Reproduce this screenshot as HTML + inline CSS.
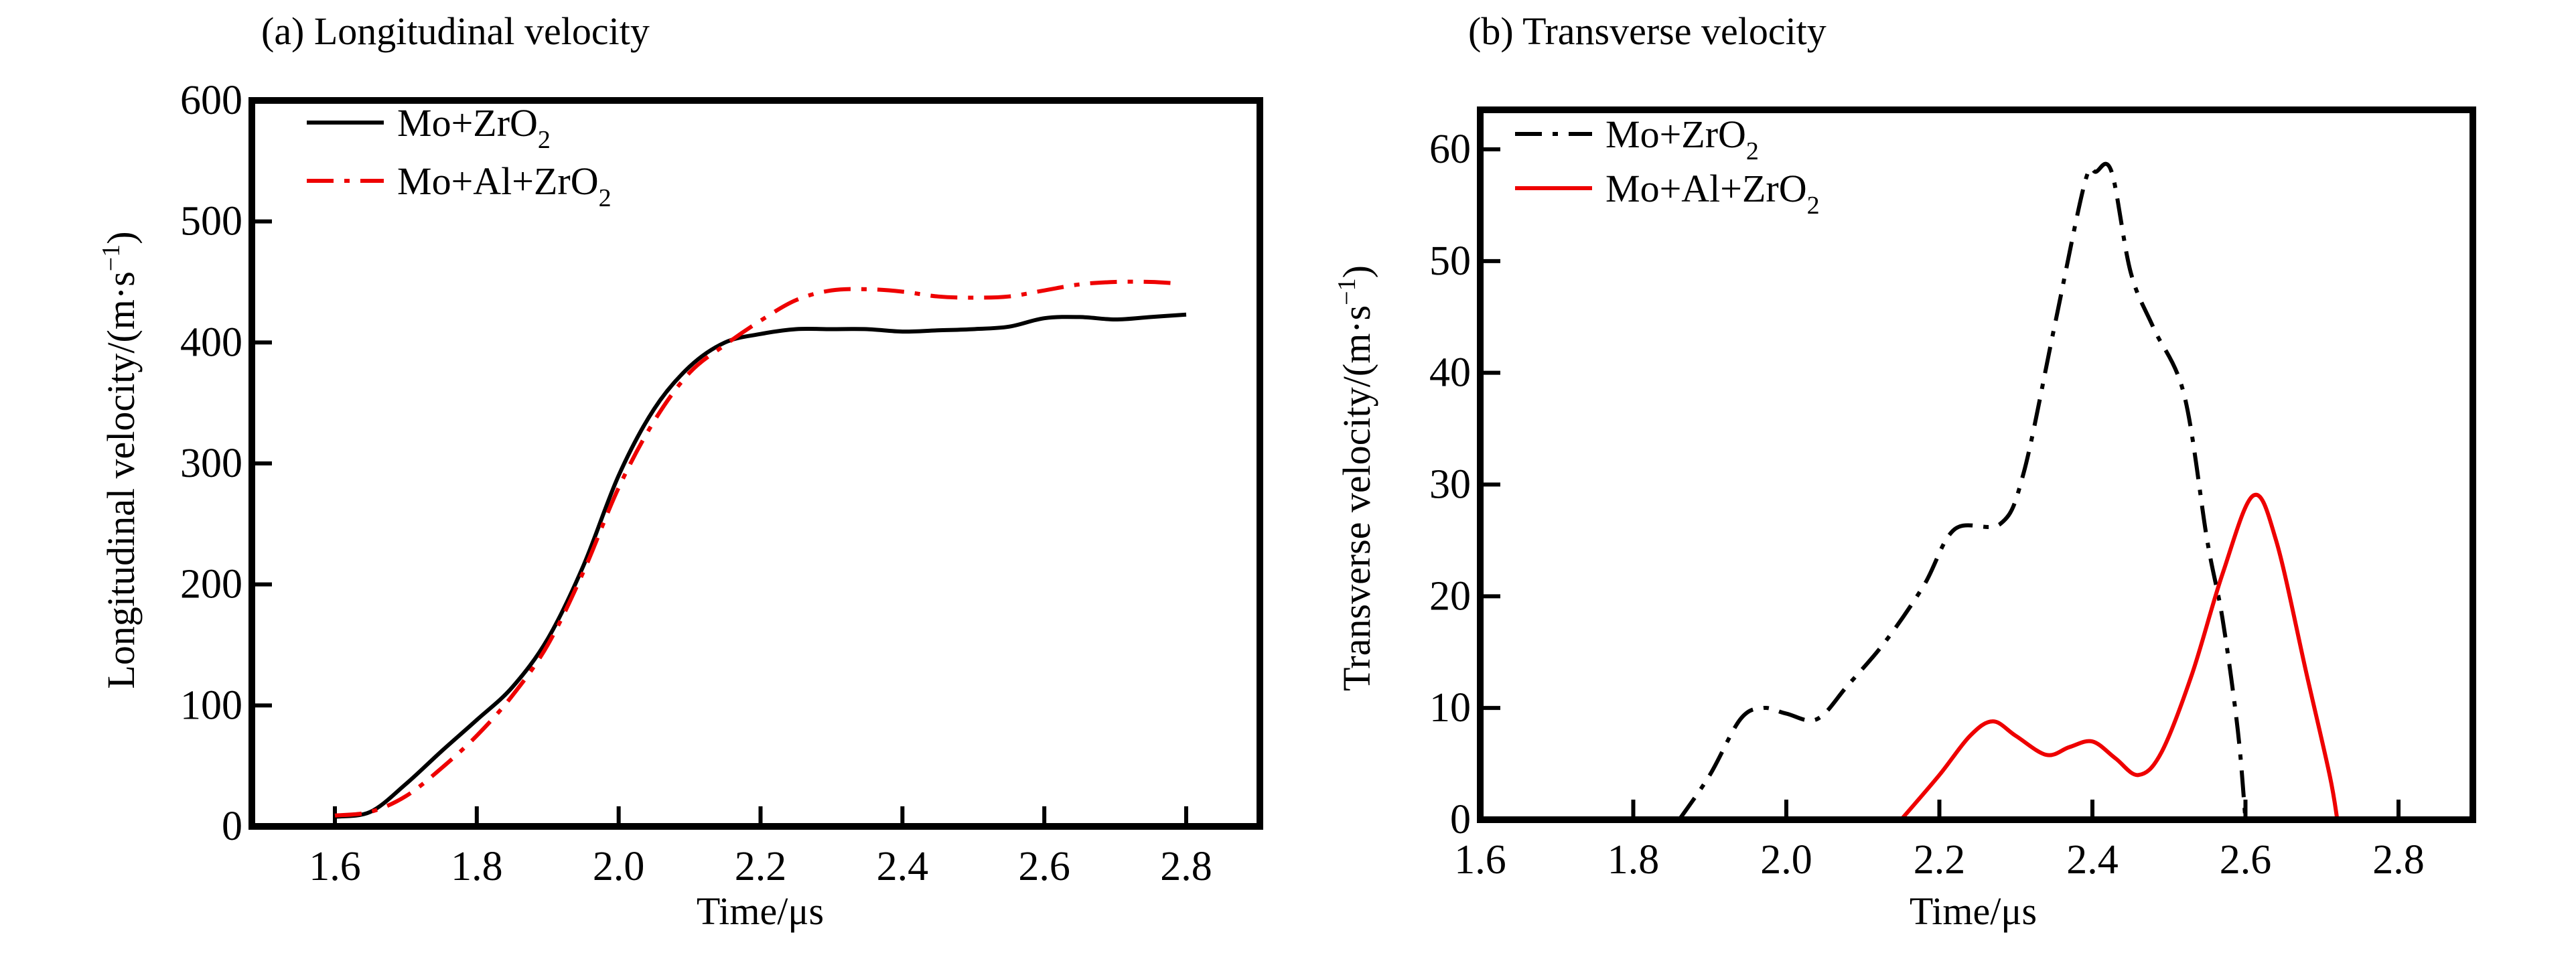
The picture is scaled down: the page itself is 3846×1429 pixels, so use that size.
<!DOCTYPE html>
<html><head><meta charset="utf-8"><style>
html,body{margin:0;padding:0;background:#fff;}
svg{display:block;font-family:"Liberation Serif",serif;}
</style></head><body>
<svg id="chart" width="3846" height="1429" viewBox="0 0 3846 1429" xmlns="http://www.w3.org/2000/svg">
<rect width="3846" height="1429" fill="#fff"/>
</svg>
<script>
// Panel (a) data
const timeA = [1.6,1.65,1.7,1.75,1.8,1.85,1.9,1.95,2.0,2.05,2.1,2.15,2.2,2.25,2.3,2.35,2.4,2.45,2.5,2.55,2.6,2.65,2.7,2.75,2.8];
const longMo = [8,12,35,62,88,115,155,215,290,345,380,400,407,411,411,411,409,410,411,413,420,421,419,421,423];
const timeA2 = [1.6,1.65,1.7,1.75,1.8,1.85,1.9,1.95,2.0,2.05,2.1,2.15,2.2,2.25,2.3,2.35,2.4,2.45,2.5,2.55,2.6,2.65,2.7,2.75,2.78];
const longMoAl = [9,12,25,48,75,108,150,210,280,335,375,398,418,435,443,444,442,438,437,438,443,448,450,450,449];
const xTicksA = [1.6,1.8,2.0,2.2,2.4,2.6,2.8];
const yTicksA = [0,100,200,300,400,500,600];
// Panel (b) data
const timeB1 = [1.86,1.9,1.94,1.97,2.0,2.04,2.08,2.13,2.18,2.22,2.28,2.31,2.35,2.39,2.405,2.425,2.45,2.48,2.52,2.55,2.57,2.59,2.6];
const transMo = [0,4,9,10,9.5,9,12,16,21,26,26.5,31,44,57,58,58,49,44,38,25,18,8,0];
const timeB2 = [2.15,2.2,2.24,2.27,2.3,2.34,2.37,2.4,2.43,2.46,2.49,2.53,2.57,2.61,2.64,2.68,2.71,2.72];
const transMoAl = [0,4,7.5,8.8,7.5,5.8,6.5,7,5.5,4,6,13,22,29,25,13,4,0];
const xTicksB = [1.6,1.8,2.0,2.2,2.4,2.6,2.8];
const yTicksB = [0,10,20,30,40,50,60];

const NS="http://www.w3.org/2000/svg";
const svg=document.getElementById('chart');
function mk(tag,attrs,parent){const e=document.createElementNS(NS,tag);for(const k in attrs)e.setAttribute(k,attrs[k]);(parent||svg).appendChild(e);return e;}
function txt(s,attrs,parent){const e=mk('text',attrs,parent);e.textContent=s;return e;}
function smooth(pts){let d='M'+pts[0][0]+','+pts[0][1];for(let i=0;i<pts.length-1;i++){const p0=pts[Math.max(0,i-1)],p1=pts[i],p2=pts[i+1],p3=pts[Math.min(pts.length-1,i+2)];const c1x=p1[0]+(p2[0]-p0[0])/6,c1y=p1[1]+(p2[1]-p0[1])/6,c2x=p2[0]-(p3[0]-p1[0])/6,c2y=p2[1]-(p3[1]-p1[1])/6;d+=` C${c1x},${c1y} ${c2x},${c2y} ${p2[0]},${p2[1]}`;}return d;}

function panel(cfg){
  const g=mk('g',{});
  
  
  const X=v=>cfg.x0+(v-cfg.xmin)/(cfg.xmax-cfg.xmin)*(cfg.x1-cfg.x0);
  const Y=v=>cfg.y0+(v-cfg.ymin)/(cfg.ymax-cfg.ymin)*(cfg.y1-cfg.y0);
  const t=txt(cfg.title,{x:cfg.titleX,y:66,'font-size':58},g);
  
  
  cfg.xTicks.forEach(v=>{
    const l=mk('line',{x1:X(v),x2:X(v),y1:cfg.by1,y2:cfg.by1-30,stroke:'#000','stroke-width':6},g);
    
    
    const tl=txt(v.toFixed(1),{x:X(v),y:cfg.by1+80,'font-size':62,'text-anchor':'middle'},g);
    
    
  });
  cfg.yTicks.forEach(v=>{
    const l=mk('line',{x1:cfg.bx0,x2:cfg.bx0+30,y1:Y(v),y2:Y(v),stroke:'#000','stroke-width':6},g);
    
    
    const tl=txt(String(v),{x:cfg.bx0-14,y:Y(v)+20,'font-size':62,'text-anchor':'end'},g);
    
    
  });
  cfg.series.forEach(s=>{
    const pts=s.x.map((v,i)=>[X(v),Y(s.y[i])]);
    const p=mk('path',{d:smooth(pts),fill:'none',stroke:s.color,'stroke-width':6,'stroke-dasharray':s.dash||'none'},g);
    
    
  });
  const box=mk('rect',{x:cfg.bx0,y:cfg.by0,width:cfg.bx1-cfg.bx0,height:cfg.by1-cfg.by0,fill:'none',stroke:'#000','stroke-width':10},g);
  
  
  cfg.series.forEach((s,i)=>{
    const ly=cfg.legY[i];
    const lg=mk('g',{},g);
    
    
    mk('line',{x1:cfg.legX,x2:cfg.legX+115,y1:ly,y2:ly,stroke:s.color,'stroke-width':6,'stroke-dasharray':s.dash||'none'},lg);
    const lt=txt('',{x:cfg.legX+135,y:ly+20,'font-size':58},lg);
    lt.innerHTML=s.label+'<tspan dy="18" font-size="38">2</tspan>';
  });
  const xt=txt('Time/μs',{x:cfg.xtX,y:1380,'font-size':58,'text-anchor':'middle'},g);
  
  
  const yt=txt('',{x:0,y:0,'font-size':58,'text-anchor':'middle',transform:`translate(${cfg.ytX},${cfg.ytY}) rotate(-90)`},g);
  yt.innerHTML=cfg.ytitle+'/(m·s<tspan dy="-22" font-size="38">−1</tspan><tspan dy="22">)</tspan>';
  
  
}

panel({name:'panel-a-longitudinal',title:'(a) Longitudinal velocity',titleX:390,
  bx0:376,bx1:1881,by0:150,by1:1234,
  x0:500,x1:1771,xmin:1.6,xmax:2.8,y0:1234,y1:150,ymin:0,ymax:600,
  xTicks:xTicksA,yTicks:yTicksA,
  series:[{x:timeA,y:longMo,color:'#000',label:'Mo+ZrO',name:'line-mo-zro2'},
          {x:timeA2,y:longMoAl,color:'#e00',dash:'40 16 8 16',label:'Mo+Al+ZrO',name:'line-mo-al-zro2'}],
  legX:458,legY:[183,270],xtX:1135,ytX:200,ytY:687,ytitle:'Longitudinal velocity'});

panel({name:'panel-b-transverse',title:'(b) Transverse velocity',titleX:2192,
  bx0:2210,bx1:3692,by0:164,by1:1224,
  x0:2210,x1:3581,xmin:1.6,xmax:2.8,y0:1224,y1:223,ymin:0,ymax:60,
  xTicks:xTicksB,yTicks:yTicksB,
  series:[{x:timeB1,y:transMo,color:'#000',dash:'40 16 8 16',label:'Mo+ZrO',name:'line-mo-zro2'},
          {x:timeB2,y:transMoAl,color:'#e00',label:'Mo+Al+ZrO',name:'line-mo-al-zro2'}],
  legX:2262,legY:[200,281],xtX:2946,ytX:2045,ytY:714,ytitle:'Transverse velocity'});
</script>
</body></html>
